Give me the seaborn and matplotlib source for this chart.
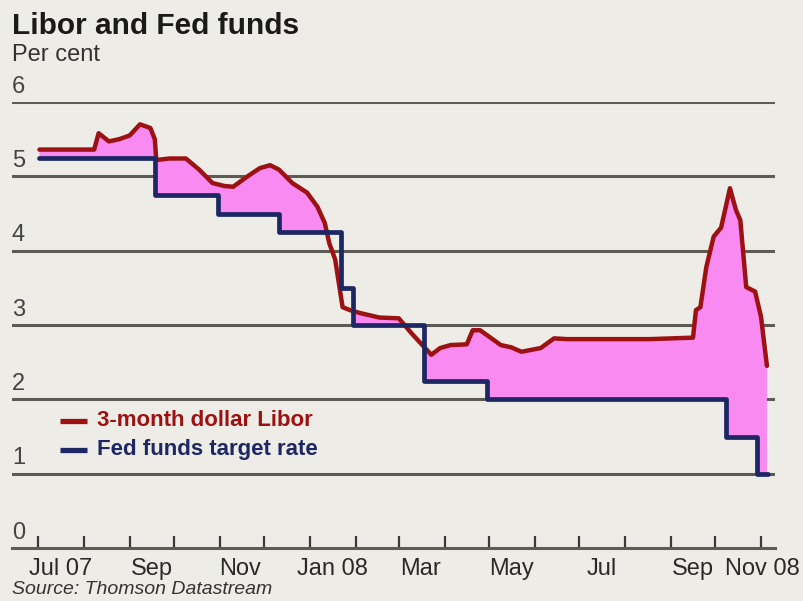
import numpy as np
import pandas as pd
import matplotlib
matplotlib.use("Agg")
import matplotlib.pyplot as plt
import matplotlib.dates as mdates
from matplotlib.lines import Line2D
import seaborn as sns

# ---------------- data ----------------
libor_dates = ["2007-07-02", "2007-08-08", "2007-08-11", "2007-08-18", "2007-08-25",
               "2007-09-01", "2007-09-08", "2007-09-15", "2007-09-18", "2007-09-19",
               "2007-09-28", "2007-10-09", "2007-10-18", "2007-10-27", "2007-11-04",
               "2007-11-10", "2007-11-19", "2007-11-28", "2007-12-05", "2007-12-11",
               "2007-12-20", "2007-12-30", "2008-01-06", "2008-01-11", "2008-01-14",
               "2008-01-18", "2008-01-23", "2008-01-28", "2008-02-04", "2008-02-17",
               "2008-03-01", "2008-03-10", "2008-03-23", "2008-03-29", "2008-04-05",
               "2008-04-16", "2008-04-20", "2008-04-25", "2008-05-09", "2008-05-16",
               "2008-05-23", "2008-06-05", "2008-06-14", "2008-06-23", "2008-07-16",
               "2008-08-18", "2008-09-16", "2008-09-18", "2008-09-21", "2008-09-25",
               "2008-09-30", "2008-10-05", "2008-10-11", "2008-10-15", "2008-10-18",
               "2008-10-22", "2008-10-28", "2008-11-01", "2008-11-05"]
libor_values = [5.36, 5.36, 5.58, 5.47, 5.50,
                5.55, 5.70, 5.65, 5.50, 5.22,
                5.24, 5.24, 5.09, 4.91, 4.87,
                4.86, 4.99, 5.11, 5.15, 5.09,
                4.91, 4.78, 4.59, 4.37, 4.10,
                3.88, 3.24, 3.20, 3.16, 3.10,
                3.09, 2.88, 2.60, 2.69, 2.73,
                2.74, 2.93, 2.93, 2.73, 2.70,
                2.64, 2.69, 2.82, 2.81, 2.81,
                2.81, 2.83, 3.20, 3.24, 3.78,
                4.19, 4.31, 4.84, 4.55, 4.41,
                3.51, 3.45, 3.11, 2.45]

fed_dates = ["2007-07-02", "2007-09-18", "2007-10-31", "2007-12-11", "2008-01-22",
             "2008-01-30", "2008-03-18", "2008-04-30", "2008-10-08", "2008-10-29",
             "2008-11-06"]
fed_values = [5.25, 4.75, 4.50, 4.25, 3.50, 3.00, 2.25, 2.00, 1.50, 1.00, 1.00]

y_ticks = [0, 1, 2, 3, 4, 5, 6]
month_ticks = pd.date_range("2007-07-01", "2008-11-01", freq="MS")
x_label_text = ["Jul 07", "Sep", "Nov", "Jan 08", "Mar", "May", "Jul", "Sep", "Nov 08"]
x_label_dates = ["2007-07-16", "2007-09-16", "2007-11-15", "2008-01-16", "2008-03-16",
                 "2008-05-16", "2008-07-16", "2008-09-16", "2008-11-02"]

title = "Libor and Fed funds"
subtitle = "Per cent"
source = "Source: Thomson Datastream"
legend_labels = ["3-month dollar Libor", "Fed funds target rate"]

# ---------------- style ----------------
BG = "#EEECE7"
RED = "#9C1212"
BLUE = "#1C2763"
PINK = "#F98AF2"
GRID = "#5E5B56"
TXT = "#2a2a2a"

sns.set_style("white")
plt.rcParams["font.family"] = ["Liberation Sans", "DejaVu Sans"]

W, H = 804, 601
fig = plt.figure(figsize=(W / 100, H / 100), dpi=100, facecolor=BG)
ax = fig.add_axes([12 / W, 1 - 548 / H, (775 - 12) / W, (548 - 102) / H])
ax.set_facecolor(BG)

lib = pd.DataFrame({"date": pd.to_datetime(libor_dates), "rate": libor_values})
fed = pd.DataFrame({"date": pd.to_datetime(fed_dates), "rate": fed_values})

# gridlines
for yv in y_ticks[1:]:
    ax.axhline(yv, color=GRID, lw=2.2, zorder=1)

# fill between libor and fed (geometry on a common x grid)
lx = mdates.date2num(lib["date"])
fx = mdates.date2num(fed["date"])
allx = np.unique(np.concatenate([lx, fx, fx - 1e-4]))
allx = allx[(allx >= lx[0]) & (allx <= lx[-1])]
ly = np.interp(allx, lx, lib["rate"])
idx = np.searchsorted(fx, allx, side="right") - 1
fy = np.asarray(fed["rate"])[np.clip(idx, 0, len(fx) - 1)]
ax.fill_between(mdates.num2date(allx), fy, ly, where=ly >= fy, interpolate=True,
                color=PINK, lw=0, zorder=2)

sns.lineplot(data=fed, x="date", y="rate", ax=ax, color=BLUE, lw=3.4,
             drawstyle="steps-post", zorder=4)
sns.lineplot(data=lib, x="date", y="rate", ax=ax, color=RED, lw=3.2, zorder=3)

ax.set_ylim(0, 6)
ax.set_xlim(pd.Timestamp("2007-06-13 10:00"), pd.Timestamp("2008-11-10 11:00"))
ax.set_xlabel("")
ax.set_ylabel("")
ax.set_yticks([])

for s in ["top", "right", "left"]:
    ax.spines[s].set_visible(False)
ax.spines["bottom"].set_color(GRID)
ax.spines["bottom"].set_linewidth(2.2)

ax.set_xticks(month_ticks)
ax.xaxis.set_major_formatter(matplotlib.ticker.NullFormatter())
ax.tick_params(axis="x", which="major", bottom=True, direction="in", length=9,
               width=1.6, color="#3a3a3a")
ax.set_xticks(pd.to_datetime(x_label_dates), minor=True)
ax.set_xticklabels(x_label_text, minor=True)
ax.tick_params(axis="x", which="minor", bottom=True, length=0, pad=7,
               labelsize=17, labelcolor=TXT)

# y labels inside, above gridlines
for yv in y_ticks:
    ax.text(0.0, yv + 0.06, str(yv), transform=ax.get_yaxis_transform(),
            ha="left", va="bottom", fontsize=17, color="#444444")

# titles
fig.text(12 / W, 1 - 12 / H, title, ha="left", va="top", fontsize=21.5,
         fontweight="bold", color="#1a1a1a")
fig.text(12 / W, 1 - 44 / H, subtitle, ha="left", va="top", fontsize=17,
         color="#333333")
fig.text(12 / W, 1 - 581 / H, source, ha="left", va="top", fontsize=14,
         style="italic", color="#333333")

# legend
for i, (lab, col) in enumerate(zip(legend_labels, [RED, BLUE])):
    yy = 1 - (421 + 29 * i) / H
    fig.add_artist(Line2D([60 / W, 87 / W], [yy, yy], color=col, lw=3.8,
                          solid_capstyle="butt"))
    fig.text(97 / W, yy, lab, ha="left", va="center", fontsize=16,
             fontweight="bold", color=col)

fig.savefig("out.png", dpi=100, facecolor=BG)
